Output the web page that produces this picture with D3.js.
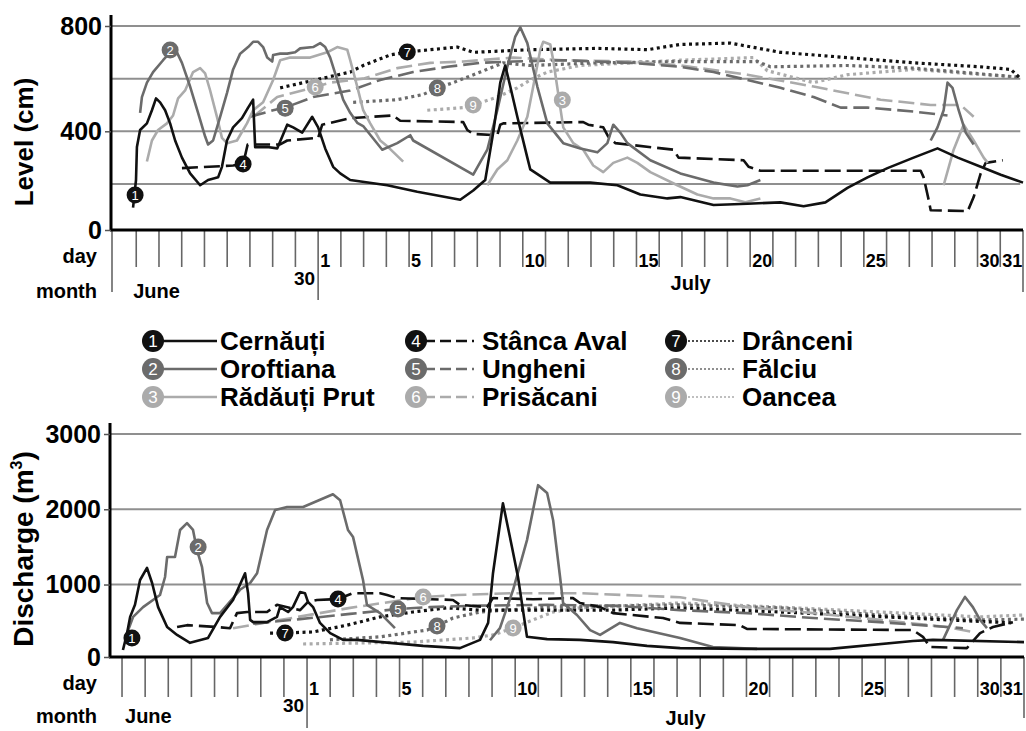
<!DOCTYPE html>
<html>
<head>
<meta charset="utf-8">
<script src="https://cdn.jsdelivr.net/npm/d3@7"></script>
<style>
  body { margin: 0; background: #fff; }
  svg { font-family: "Liberation Sans", Arial, sans-serif; font-weight: bold; }
</style>
</head>
<body>
<svg id="chart" width="1026" height="731"></svg>
<script>
// time is counted in days from 1 July 00:00, June days are negative
const stations = ["Cernăuți", "Oroftiana", "Rădăuți Prut", "Stânca Aval", "Ungheni", "Prisăcani", "Drânceni", "Fălciu", "Oancea"];
const dayLabels = [1, 5, 10, 15, 20, 25, 30, 31];
const levelTicks = [0, 400, 800];
const levelGrid = [200, 400, 600, 800];
const dischargeTicks = [0, 1000, 2000, 3000];
const dischargeGrid = [1000, 2000, 3000];

// water level (cm), each series is a list of segments of [day, value]
const levelCernauti = [[
  [-8.14,110],[-8.01,215],[-7.97,340],[-7.83,405],[-7.53,430],[-7.31,480],[-7.13,525],[-6.95,510],[-6.73,480],[-6.51,430],
  [-6.29,365],[-5.99,300],[-5.63,240],[-5.19,195],[-4.84,215],[-4.40,225],[-4.23,265],[-4.01,365],[-3.74,415],[-3.35,450],
  [-3.08,490],[-2.86,520],[-2.77,340],[-2.24,340],[-1.80,335],[-1.36,425],[-1.10,415],[-0.70,395],[-0.26,455],[0,415],
  [0.31,335],[0.66,265],[0.97,240],[1.41,215],[3.04,195],[4.36,170],[6.25,140],[6.82,175],[7.35,215],[7.70,395],
  [8.01,585],[8.23,650],[8.45,570],[8.76,455],[9.20,300],[9.33,255],[10.21,205],[11.97,205],[13.16,195],[14.17,160],
  [15.36,145],[15.93,150],[17.39,120],[18.88,125],[20.33,130],[21.35,115],[22.31,130],[23.28,185],[24.16,225],[25.04,260],
  [26.19,300],[27.24,335],[28.13,300],[29.14,265],[30.02,235],[31.0,205]
]];
const levelOroftiana = [[
  [-7.83,470],[-7.75,530],[-7.53,585],[-7.26,625],[-6.82,670],[-6.51,700],[-6.21,700],[-5.99,660],[-5.63,570],[-5.28,470],
  [-4.97,380],[-4.84,350],[-4.62,365],[-4.31,455],[-4.01,545],[-3.74,635],[-3.43,695],[-3.08,720],[-2.86,740],[-2.64,740],
  [-2.42,720],[-2.24,680],[-2.02,665],[-1.98,690],[-1.67,695],[-1.36,695],[-1.01,700],[-0.79,715],[-0.22,720],[0.09,735],
  [0.31,720],[0.53,680],[0.84,595],[1.10,520],[1.41,470],[1.72,432],[1.98,420],[2.82,330],[3.48,355],[4.05,385],
  [4.18,365],[6.82,235],[7.44,330],[7.88,480],[8.32,645],[8.67,760],[8.89,795],[9.20,735],[9.64,570],[10.08,430],
  [10.78,355],[11.53,335],[12.28,320],[12.72,355],[12.98,425],[13.29,395],[13.60,355],[14.61,290],[15.93,240],[17.39,205],
  [18.44,190],[18.88,195],[19.45,215]
], [
  [26.94,365],[27.24,415],[27.51,480],[27.68,585],[27.90,565],[28.17,480],[28.48,395],[28.83,350]
]];
const levelRadauti = [[
  [-7.53,285],[-7.31,365],[-7.04,405],[-6.65,430],[-6.38,460],[-6.16,525],[-5.85,555],[-5.50,625],[-5.19,640],[-4.97,620],
  [-4.75,555],[-4.45,455],[-4.23,375],[-4.01,355],[-3.57,365],[-3.30,405],[-3.13,430],[-2.86,480],[-2.42,510],[-1.98,595],
  [-1.67,670],[-1.23,680],[-0.35,680],[0.40,700],[0.84,720],[1.28,710],[1.41,670],[1.72,570],[1.98,480],[2.29,430],
  [2.73,365],[3.08,340],[3.74,285]
], [
  [7.44,195],[7.88,255],[8.32,290],[8.76,365],[9.20,455],[9.46,570],[9.77,710],[9.90,740],[10.21,730],[10.34,670],
  [10.78,415],[11.22,355],[11.66,330],[12.10,270],[12.54,245],[12.98,280],[13.60,300],[14.04,280],[14.61,245],[15.80,195],
  [16.68,160],[17.39,145],[18.13,145],[18.79,130],[19.45,145]
], [
  [27.51,195],[27.95,330],[28.39,425],[28.83,365],[29.27,300],[29.45,280]
]];
const levelStanca = [[
  [-5.99,260],[-3.74,270],[-3.30,275],[-3.10,350],[-1.67,350],[-1.36,365],[0,375],[0.18,425],[1.41,450],[3.30,460],
  [3.61,440],[6.38,435],[6.56,405],[6.82,390],[7.88,385],[8.01,425],[8.14,430],[11.66,435],[11.88,425],[12.54,415],
  [12.76,380],[13.07,355],[15.63,330],[15.85,300],[18.71,290],[18.93,265],[19.45,250],[26.50,250],[26.63,225],[26.85,140],
  [26.94,100],[28.57,97],[28.83,150],[29.14,240],[29.36,280],[30.11,290]
]];
const levelUngheni = [[
  [-2.99,455],[-1.98,480],[-1.45,490],[-0.22,530],[1.41,555],[2.73,595],[4.18,625],[5.68,645],[7.13,660],[8.58,665],
  [10.78,670],[13.73,660],[15.93,645],[17.39,625],[18.88,595],[20.33,565],[21.79,530],[22.98,490],[24.16,490],[26.19,475],
  [27.68,460]
]];
const levelPrisacani = [[
  [-2.86,455],[-1.80,530],[-0.13,568],[0.53,585],[1.98,600],[3.48,640],[4.93,660],[6.38,665],[8.58,680],[10.78,670],
  [13.73,665],[15.93,650],[18.88,615],[21.79,570],[24.74,520],[26.94,500],[28.26,500],[28.83,455]
]];
const levelDranceni = [[
  [-1.67,565],[1.41,625],[1.98,650],[3.17,690],[3.92,701],[4.93,710],[6.12,720],[6.82,700],[9.33,710],[12.28,715],
  [14.48,710],[15.93,730],[18.13,735],[20.33,700],[23.28,680],[26.19,660],[29.14,645],[30.46,635],[30.90,600]
]];
const levelFalciu = [[
  [1.54,510],[3.48,520],[4.62,540],[5.24,564],[5.94,585],[7.13,625],[8.14,660],[9.33,650],[12.28,660],[15.93,665],
  [19.32,665],[19.89,645],[23.28,650],[26.19,640],[30.90,605]
]];
const levelOancea = [[
  [4.80,480],[6.38,490],[6.82,500],[7.88,530],[8.76,565],[9.33,595],[10.08,625],[11.53,650],[15.93,670],[19.15,680],
  [19.76,630],[21.79,585],[23.28,615],[26.19,635],[30.90,605]
]];
// where the numbered station markers sit on the level panel
const levelMarks = [[-8.05,158],[-6.51,709],[10.74,519],[-3.30,276],[-1.45,488],[-0.13,568],[3.92,701],[5.24,564],[6.82,500]];

// discharge (m3)
const dischargeCernauti = [[
  [-7.96,130],[-7.78,355],[-7.65,570],[-7.44,730],[-7.22,1060],[-6.92,1220],[-6.70,1020],[-6.44,700],[-6.05,435],[-5.62,330],
  [-5.06,225],[-4.28,290],[-3.76,570],[-3.20,795],[-2.68,1150],[-2.55,885],[-2.46,530],[-2.33,500],[-1.73,500],[-1.30,570],
  [-1.17,700],[-0.82,635],[-0.61,700],[-0.30,900],[-0.09,885],[0.04,770],[0.26,700],[0.56,490],[1.00,355],[1.56,265],
  [2.16,265],[3.59,225],[5.02,185],[6.61,155],[7.48,265],[7.83,490],[8.04,1150],[8.47,2080],[8.86,1500],[9.12,1100],
  [9.51,305],[10.38,275],[11.80,265],[13.23,235],[14.70,185],[16.13,155],[19.02,145],[22.61,145],[26.20,250],[27.06,265],
  [31.0,235]
]];
const dischargeOroftiana = [[
  [-7.78,355],[-7.52,570],[-7.09,700],[-6.36,860],[-6.14,1100],[-6.05,1365],[-5.71,1365],[-5.49,1725],[-5.19,1815],[-4.93,1725],
  [-4.76,1460],[-4.54,1230],[-4.32,755],[-4.11,620],[-3.76,620],[-3.20,820],[-2.90,930],[-2.46,1020],[-2.16,1150],[-1.73,1725],
  [-1.38,1990],[-0.86,2030],[-0.17,2030],[1.12,2200],[1.43,2120],[1.77,1725],[1.99,1630],[2.42,1060],[2.59,730],[3.16,620],
  [3.80,420]
], [
  [7.91,260],[8.34,420],[8.91,930],[9.51,1590],[9.99,2320],[10.38,2215],[10.64,1855],[10.94,1100],[11.07,755],[11.67,595],
  [12.24,395],[12.67,330],[13.53,490],[14.27,420],[16.13,290],[17.55,170],[19.46,145]
], [
  [27.50,265],[28.10,660],[28.45,835],[28.79,700],[29.10,530],[29.40,420]
]];
const dischargeRadauti = [];
const dischargeStanca = [[
  [-5.62,435],[-5.19,460],[-3.89,435],[-3.33,420],[-3.03,620],[-2.59,635],[-1.73,635],[-1.30,730],[-0.30,660],[0.04,770],
  [0.43,795],[1.34,807],[1.99,885],[3.16,885],[3.46,860],[3.89,820],[6.31,795],[6.61,730],[7.78,700],[8.04,820],
  [9.77,805],[11.50,820],[11.80,755],[12.67,700],[13.23,620],[15.39,555],[16.13,490],[18.72,460],[19.02,410],[26.20,395],
  [26.63,305],[26.93,170],[28.53,155],[29.10,355],[29.66,435],[30.52,500]
]];
const dischargeUngheni = [[
  [-2.33,480],[-0.30,540],[1.86,610],[3.93,674],[5.32,700],[7.48,720],[10.38,730],[13.23,720],[16.13,660],[19.02,620],
  [21.88,555],[24.77,500],[28.36,420]
]];
const dischargePrisacani = [[
  [-3.20,420],[1.86,690],[5.02,834],[6.49,860],[8.91,885],[11.80,885],[16.13,830],[19.02,700],[21.88,620],[24.77,530],
  [27.67,435],[28.79,370]
]];
const dischargeDranceni = [[
  [-1.60,355],[-0.95,356],[0.26,370],[1.73,460],[3.16,570],[4.58,635],[6.05,690],[7.48,660],[10.38,660],[13.23,660],
  [16.13,690],[20.45,635],[23.35,595],[27.67,530],[30.52,490]
]];
const dischargeFalciu = [[
  [0.99,265],[3.16,305],[5.19,395],[5.62,449],[6.31,555],[7.48,635],[10.38,700],[16.13,730],[20.45,690],[24.77,595],
  [29.10,530],[31.0,540]
]];
const dischargeOancea = [[
  [-0.17,210],[4.58,235],[7.18,290],[8.04,330],[8.91,422],[9.77,530],[10.64,635],[11.80,690],[16.13,755],[20.45,700],
  [24.77,635],[29.10,570],[31.0,595]
]];
const dischargeMarks = [[-7.57,289],[-4.71,1498],null,[1.34,807],[3.93,674],[5.02,834],[-0.95,356],[5.62,449],[8.91,422]];

// row in legend -> grey shade, column -> line pattern
const shades = ["#111111", "#6b6b6b", "#ababab"];
const patterns = [null, "16,6", "3,3.5"];
const widths = [2.6, 2.6, 3.2];
const legendPatterns = [null, "11,5", "2,2"];
const styleOf = i => {
  const col = Math.floor(i / 3);
  return { color: shades[i % 3], dash: patterns[col], width: widths[col] };
};

const svg = d3.select("#chart");

function drawPanel(cfg) {
  const g = svg.append("g");
  const x = d3.scaleLinear().domain(cfg.xDomain).range(cfg.xRange);
  const y = d3.scaleLinear().domain(cfg.yDomain).range(cfg.yRange).clamp(true);
  const base = cfg.yRange[0];
  const left = cfg.xRange[0];

  // horizontal grid
  g.append("g").selectAll("line").data(cfg.grid).join("line")
    .attr("x1", left).attr("x2", x(30.88))
    .attr("y1", d => y(d)).attr("y2", d => y(d))
    .attr("stroke", "#8f8f8f").attr("stroke-width", 2);

  // day boundary ticks under the axis
  const days = d3.range(-8, 32);
  g.append("g").selectAll("line").data(days).join("line")
    .attr("x1", d => x(d)).attr("x2", d => x(d))
    .attr("y1", base)
    .attr("y2", d => base + (d === 0 ? cfg.monthTick : d === 31 ? cfg.endTick : cfg.dayTick))
    .attr("stroke", "#666").attr("stroke-width", 1.6);
  if (cfg.leftTick) {
    g.append("line").attr("x1", left + 1).attr("x2", left + 1)
      .attr("y1", base).attr("y2", base + cfg.endTick)
      .attr("stroke", "#666").attr("stroke-width", 1.6);
  }

  // series
  const line = d3.line().x(d => x(d[0])).y(d => y(d[1]));
  const order = [8, 7, 6, 5, 4, 3, 2, 1, 0];
  order.forEach(i => {
    const st = styleOf(i);
    g.append("g").selectAll("path").data(cfg.series[i]).join("path")
      .attr("d", line)
      .attr("fill", "none")
      .attr("stroke", st.color)
      .attr("stroke-width", st.width)
      .attr("stroke-linejoin", "round")
      .attr("stroke-dasharray", st.dash);
  });

  // axes lines
  g.append("line").attr("x1", left).attr("x2", left)
    .attr("y1", cfg.yRange[1] - 11).attr("y2", base)
    .attr("stroke", "#000").attr("stroke-width", 3);
  g.append("line").attr("x1", left - 1).attr("x2", x(31))
    .attr("y1", base).attr("y2", base)
    .attr("stroke", "#000").attr("stroke-width", 3);

  const yAxis = g.append("g").attr("transform", `translate(${left},0)`)
    .call(d3.axisLeft(y).tickValues(cfg.ticks).tickSize(6).tickPadding(3).tickFormat(d3.format("d")));
  yAxis.select(".domain").remove();
  yAxis.selectAll(".tick line").attr("stroke", "#555").attr("stroke-width", 1.5);
  yAxis.selectAll(".tick text").attr("fill", "#000")
    .style("font-size", "25px").style("font-weight", "bold")
    .style("font-family", "'Liberation Sans', Arial, sans-serif");

  // axis title
  const title = g.append("text")
    .attr("transform", `translate(33,${cfg.titleY}) rotate(-90)`)
    .attr("text-anchor", "middle")
    .style("font-size", cfg.titleSize + "px");
  title.append("tspan").text(cfg.title);
  if (cfg.titleSup) {
    title.append("tspan").text(cfg.titleSup).attr("dy", -11).style("font-size", "16px");
    title.append("tspan").text(")").attr("dy", 11);
  }

  // day numbers and month names
  g.append("g").selectAll("text").data(dayLabels).join("text")
    .attr("x", d => x(d - 1) + 2)
    .attr("y", base + cfg.dayY)
    .style("font-size", "18px")
    .text(d => d);
  g.append("text").attr("x", x(0) - 3).attr("y", base + cfg.juneDayY)
    .attr("text-anchor", "end").style("font-size", "19px").text("30");
  g.append("text").attr("x", 97).attr("y", base + 33)
    .attr("text-anchor", "end").style("font-size", "20px").text("day");
  g.append("text").attr("x", 97).attr("y", base + cfg.monthY)
    .attr("text-anchor", "end").style("font-size", "20px").text("month");
  g.append("text").attr("x", x(-8) + cfg.juneDx).attr("y", base + cfg.monthY)
    .style("font-size", "20px").text("June");
  g.append("text").attr("x", x(15.5)).attr("y", base + cfg.julyY)
    .style("font-size", "20px").text("July");

  // numbered station markers
  const marks = cfg.marks.map((m, i) => m && { i, t: m[0], v: m[1] }).filter(Boolean);
  const mg = g.append("g").selectAll("g").data(marks).join("g")
    .attr("transform", d => `translate(${x(d.t)},${y(d.v)})`);
  mg.append("circle").attr("r", 8.5).attr("fill", d => shades[d.i % 3]);
  mg.append("text").attr("text-anchor", "middle").attr("dy", "0.36em")
    .attr("fill", "#fff").style("font-size", "13px").style("font-weight", "normal")
    .text(d => d.i + 1);
}

drawPanel({
  xDomain: [-9.11, 31], xRange: [111, 1023],
  yDomain: [25, 800], yRange: [230, 26],
  grid: levelGrid, ticks: levelTicks,
  title: "Level (cm)", titleSize: 26, titleY: 142,
  dayTick: 37, monthTick: 70, endTick: 62, leftTick: true,
  dayY: 37, juneDayY: 55, monthY: 68, julyY: 60, juneDx: -3,
  series: [levelCernauti, levelOroftiana, levelRadauti, levelStanca, levelUngheni, levelPrisacani, levelDranceni, levelFalciu, levelOancea],
  marks: levelMarks
});

drawPanel({
  xDomain: [-8.52, 31], xRange: [110, 1024],
  yDomain: [37, 3000], yRange: [657, 434],
  grid: dischargeGrid, ticks: dischargeTicks,
  title: "Discharge (m", titleSup: "3", titleSize: 28, titleY: 549,
  dayTick: 40, monthTick: 71, endTick: 61, leftTick: false,
  dayY: 38, juneDayY: 55, monthY: 66, julyY: 68, juneDx: 3,
  series: [dischargeCernauti, dischargeOroftiana, dischargeRadauti, dischargeStanca, dischargeUngheni, dischargePrisacani, dischargeDranceni, dischargeFalciu, dischargeOancea],
  marks: dischargeMarks
});

// legend, three columns by line pattern
const legendRows = [341, 369, 397];
const legendCols = [153, 416, 676];
const legendText = [220, 482, 742];
const lg = svg.append("g").selectAll("g").data(stations).join("g")
  .attr("transform", (d, i) => `translate(0,${legendRows[i % 3]})`);
lg.append("line")
  .attr("x1", (d, i) => legendCols[Math.floor(i / 3)] + 8)
  .attr("x2", (d, i) => legendText[Math.floor(i / 3)] - (i < 3 ? 3 : 8))
  .attr("stroke", (d, i) => shades[i % 3])
  .attr("stroke-width", (d, i) => i >= 6 ? 1.6 : 2.6)
  .attr("stroke-dasharray", (d, i) => legendPatterns[Math.floor(i / 3)]);
lg.append("circle")
  .attr("cx", (d, i) => legendCols[Math.floor(i / 3)])
  .attr("r", 11)
  .attr("fill", (d, i) => shades[i % 3]);
lg.append("text")
  .attr("x", (d, i) => legendCols[Math.floor(i / 3)])
  .attr("dy", "0.36em").attr("text-anchor", "middle")
  .attr("fill", "#fff").style("font-size", "17px").style("font-weight", "normal")
  .text((d, i) => i + 1);
lg.append("text")
  .attr("x", (d, i) => legendText[Math.floor(i / 3)])
  .attr("dy", "0.36em")
  .style("font-size", "26px")
  .text(d => d);
</script>
</body>
</html>
